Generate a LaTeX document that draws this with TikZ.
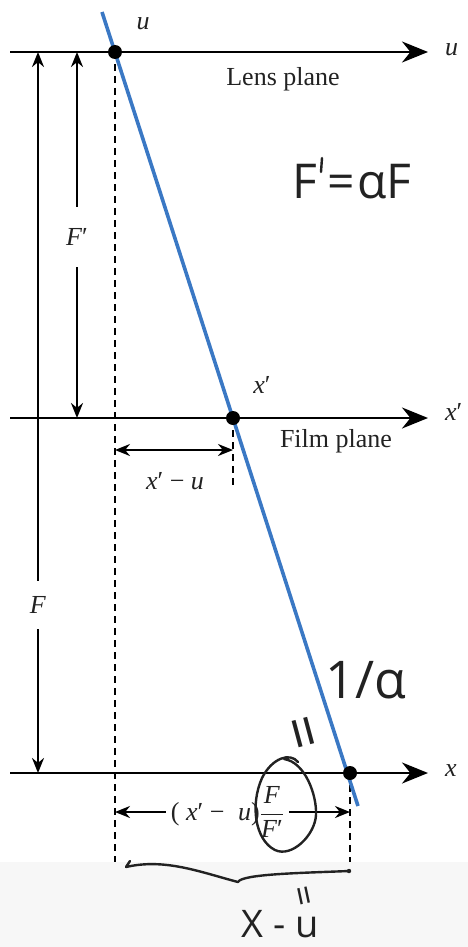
\documentclass[tikz,border=0pt]{standalone}
\usepackage{fontspec}
\setmainfont{Liberation Serif}
\newfontfamily\handfont{Open Sans}
\usetikzlibrary{arrows.meta}
\definecolor{rayblue}{HTML}{3A78C4}
\definecolor{ink}{HTML}{222222}
\newcommand{\vi}[1]{\textit{#1}}
\begin{document}
\begin{tikzpicture}[x=1pt,y=-1pt,
  axis/.style={line width=2.4pt,-{Stealth[length=26pt,width=21pt]}},
  dim/.style={line width=2.2pt,{Stealth[length=15pt,width=12pt]}-{Stealth[length=15pt,width=12pt]}},
  guide/.style={line width=2.2pt,dash pattern=on 7pt off 5pt},
  ray/.style={line width=3.6pt,rayblue},
  lbl/.style={font=\fontsize{26}{30}\selectfont,text=ink,inner sep=1pt},
  hand/.style={text=ink,inner sep=0pt},
  handline/.style={line width=2.4pt,ink,line cap=round,line join=round}]
\useasboundingbox (0,0) rectangle (468,947);
\fill[black!3] (0,862) rectangle (468,947);

% coordinates
\coordinate (U) at (115,52);
\coordinate (XP) at (233,418);
\coordinate (X) at (350,773);
\coordinate (RayTop) at (102,12);
\coordinate (RayBot) at (358,806);
\coordinate (L0) at (10,52);  \coordinate (L1) at (428,52);
\coordinate (M0) at (10,418); \coordinate (M1) at (428,418);
\coordinate (B0) at (10,773); \coordinate (B1) at (428,773);

% dashed guides
\coordinate (Ud) at (115,862);
\coordinate (XPd) at (233,487);
\coordinate (Xd) at (350,862);
\draw[guide] (U) -- (Ud);
\draw[guide] (XP) -- (XPd);
\draw[guide] (X) -- (Xd);

% axes
\draw[axis] (L0) -- (L1);
\draw[axis] (M0) -- (M1);
\draw[axis] (B0) -- (B1);
\node[lbl,anchor=west] (lu) at (444,50) {\vi{u}};
\node[lbl,anchor=west] (lxp) at (444,412) {\vi{x}′};
\node[lbl,anchor=west] (lx) at (444,771) {\vi{x}};
\node[lbl] (lens) at (283,79) {Lens plane};
\node[lbl] (film) at (336,441) {Film plane};

% ray
\draw[ray] (RayTop) -- (RayBot);
\fill (U) circle (7pt);
\fill (XP) circle (7pt);
\fill (X) circle (7pt);
\node[lbl] (pu) at (143,24) {\vi{u}};
\node[lbl] (pxp) at (262,385) {\vi{x}′};

% F and F'
\coordinate (Ft) at (38,52); \coordinate (Fb) at (38,773);
\coordinate (Fpt) at (77,52); \coordinate (Fpb) at (77,418);
\draw[dim] (Ft) -- (Fb) node[lbl,pos=0.767,fill=white,minimum height=48pt] (lF) {\vi{F}};
\draw[dim] (Fpt) -- (Fpb) node[lbl,pos=0.505,fill=white,minimum height=60pt] (lFp) {\vi{F}′};

% x'-u
\coordinate (A0) at (115,450); \coordinate (A1) at (233,450);
\draw[dim] (A0) -- (A1);
\node[lbl] (lxu) at (175,481) {\vi{x}′ − \vi{u}};

% bottom dimension
\coordinate (C0) at (115,812); \coordinate (C1) at (350,812);
\draw[dim] (C0) -- (C1) node[lbl,pos=0.5,fill=white,inner xsep=5pt,xshift=-5pt] (lbig)
  {( \vi{x}′ −\; \vi{u})$\displaystyle\frac{\hbox{\vi{F}}}{\hbox{\vi{F}′}}$};

% handwritten annotations
\node[hand,font=\handfont\fontsize{48}{52}\selectfont] (eq1) at (352,182) {F\hspace{10pt}=\hspace{3pt}αF};
\draw[handline] (322,158) -- (321,172);
\node[hand,font=\handfont\fontsize{52}{58}\selectfont] (inv) at (366,680) {1/α};
\node[hand,font=\handfont\fontsize{60}{64}\selectfont,rotate=-75] (eq2) at (297,734) {=};
\node[hand,font=\handfont\fontsize{36}{40}\selectfont,rotate=-78] (eq3) at (300,897) {=};
\node[hand,font=\handfont\fontsize{38}{42}\selectfont,anchor=south] (xu) at (280,938) {X\hspace{10pt}-\hspace{10pt}u};

% circle around F/F'
\draw[handline] (298,762) .. controls (290,752) and (272,758) .. (262,778)
  .. controls (250,805) and (255,840) .. (275,850)
  .. controls (292,858) and (315,835) .. (316,815)
  .. controls (317,795) and (305,762) .. (284,759);

% brace
\coordinate (BrL) at (130,861);
\coordinate (BrM) at (238,882);
\coordinate (BrR) at (349,871);
\draw[handline] (BrL) -- (126,867) .. controls (165,858) and (200,872) .. (BrM)
  .. controls (242,874) and (300,873) .. (BrR);
\fill[ink] (BrR) circle (2.2pt);
\end{tikzpicture}
\end{document}
